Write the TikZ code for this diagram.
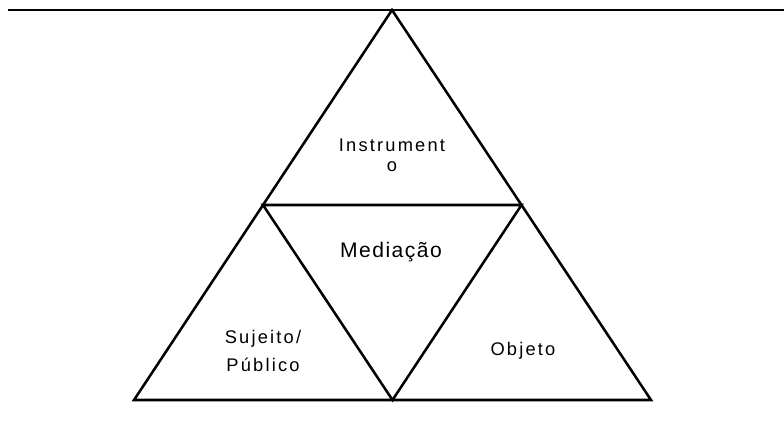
\documentclass[tikz,border=0pt]{standalone}
\usepackage{fontspec}
\setmainfont{Liberation Sans}
\newfontfamily\spaced[LetterSpace=12]{Liberation Sans}
\newfontfamily\lessspaced[LetterSpace=7]{Liberation Sans}
\usepackage{tikz}
\usetikzlibrary{calc}

\begin{document}
\begin{tikzpicture}[
    x=0.025cm, y=-0.025cm,
    edge/.style={draw, line width=1.8pt, line join=miter},
    label/.style={align=center, font=\spaced\fontsize{13}{14.2}\selectfont, inner sep=0pt}
]
\useasboundingbox (0,0) rectangle (784,429);

\coordinate (apex) at (392,10);
\coordinate (left) at (134,400);
\coordinate (right) at (651,400);
\coordinate (midleft) at ($(apex)!0.5!(left)$);
\coordinate (midright) at ($(apex)!0.5!(right)$);
\coordinate (midbase) at ($(left)!0.5!(right)$);
\coordinate (ruleleft) at (8,10);
\coordinate (ruleright) at (784,10);

\draw[line width=1.4pt] (ruleleft) -- (ruleright);
\draw[edge] (apex) -- (right) -- (left) -- cycle;
\draw[edge] (midleft) -- (midright) -- (midbase) -- cycle;

\node[label] (instr) at (392,155) {Instrument\\o};
\node[label, font=\lessspaced\fontsize{15}{16}\selectfont] (med) at (391,252) {Mediação};
\node[label, font=\spaced\fontsize{13}{19.8}\selectfont] (suj) at (263,351) {Sujeito/\\Público};
\node[label] (obj) at (523,351) {Objeto};

\end{tikzpicture}
\end{document}
